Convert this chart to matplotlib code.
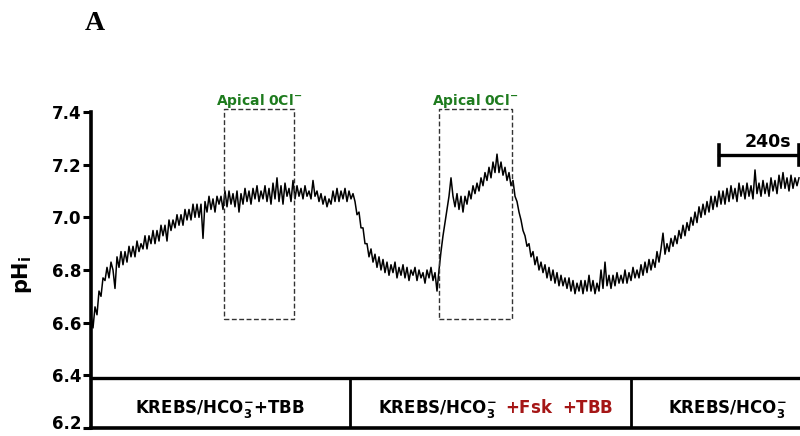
import matplotlib
matplotlib.use("Agg")
import matplotlib.pyplot as plt
import matplotlib.transforms as mtransforms
import numpy as np

# intracellular pH trace, one reading every 6 s
sample_step_s = 6
ph_trace = [
    6.63, 6.58, 6.66, 6.63, 6.72, 6.70, 6.77, 6.76,
    6.81, 6.77, 6.83, 6.80, 6.73, 6.85, 6.81, 6.87, 6.82, 6.87,
    6.83, 6.89, 6.85, 6.89, 6.85, 6.91, 6.87, 6.90, 6.88, 6.93,
    6.88, 6.93, 6.90, 6.95, 6.90, 6.95, 6.91, 6.97, 6.93, 6.97,
    6.91, 6.99, 6.95, 6.99, 6.96, 7.01, 6.97, 7.01, 6.97, 7.03,
    6.99, 7.03, 6.99, 7.05, 7.00, 7.05, 7.00, 7.05, 6.92, 7.06,
    7.02, 7.08, 7.03, 7.07, 7.02, 7.08, 7.05, 7.08, 7.03, 7.10,
    7.04, 7.10, 7.05, 7.09, 7.04,
    7.10, 7.02, 7.09, 7.05, 7.11, 7.06, 7.10, 7.05, 7.11, 7.07,
    7.12, 7.06, 7.10, 7.07, 7.12, 7.06, 7.11, 7.05, 7.13, 7.07,
    7.15, 7.06, 7.12, 7.05, 7.13, 7.08, 7.11, 7.06, 7.14, 7.07,
    7.12, 7.08, 7.11, 7.07, 7.12, 7.08, 7.10, 7.07, 7.14, 7.08,
    7.10, 7.06, 7.09, 7.05, 7.08, 7.04, 7.07, 7.05, 7.10, 7.06,
    7.11, 7.06, 7.10, 7.07, 7.11, 7.06, 7.10, 7.07, 7.09,
    7.06, 7.01, 7.02, 6.96, 6.96, 6.90, 6.90, 6.85, 6.88, 6.83,
    6.86, 6.81, 6.85, 6.80, 6.84, 6.79,
    6.83, 6.78, 6.82, 6.79, 6.83, 6.77, 6.81, 6.78, 6.82, 6.77,
    6.81, 6.76, 6.80, 6.78, 6.81, 6.76, 6.80, 6.77, 6.79, 6.75,
    6.80, 6.77, 6.81, 6.76, 6.79, 6.72,
    6.80, 6.87, 6.93, 6.98, 7.03, 7.08, 7.15, 7.08, 7.04, 7.09,
    7.03, 7.08, 7.02, 7.08, 7.05, 7.10, 7.07, 7.12, 7.09, 7.13,
    7.10, 7.15, 7.12, 7.17, 7.14, 7.19, 7.15, 7.21, 7.17, 7.24,
    7.17, 7.21, 7.16, 7.19, 7.14, 7.17, 7.12, 7.14, 7.08, 7.06,
    7.02, 6.99, 6.95, 6.93, 6.89, 6.90, 6.85, 6.87, 6.82, 6.85,
    6.80, 6.83, 6.79, 6.82, 6.77, 6.81, 6.76, 6.80, 6.75, 6.79,
    6.74, 6.78, 6.74, 6.77, 6.73, 6.77, 6.72, 6.76, 6.71, 6.75,
    6.72, 6.76, 6.71, 6.76, 6.72, 6.78, 6.72, 6.76, 6.71, 6.75,
    6.72, 6.80, 6.73, 6.83, 6.74, 6.78, 6.73, 6.78, 6.74, 6.79,
    6.75, 6.78, 6.75, 6.80, 6.75, 6.79, 6.76, 6.81, 6.77, 6.80,
    6.77, 6.82, 6.78, 6.83, 6.79, 6.84, 6.80, 6.84, 6.81, 6.87,
    6.83, 6.88, 6.94, 6.86, 6.90, 6.87, 6.92, 6.89, 6.93, 6.90,
    6.95, 6.92, 6.97, 6.93, 6.98, 6.95, 7.00, 6.97, 7.02, 6.98,
    7.04, 7.00, 7.05, 7.01, 7.06, 7.02, 7.08, 7.03, 7.08, 7.04,
    7.10, 7.05, 7.10, 7.05, 7.11, 7.06, 7.12, 7.07, 7.11, 7.06,
    7.13, 7.08, 7.12, 7.07, 7.13, 7.08, 7.12, 7.07, 7.18, 7.09,
    7.13, 7.08, 7.14, 7.09, 7.13, 7.08, 7.15, 7.10, 7.14, 7.09,
    7.16, 7.11, 7.17, 7.11, 7.15, 7.10, 7.16, 7.11, 7.15, 7.12,
    7.15,
]

# apical 0 Cl- windows (s)
apical_start = [399, 1044]
apical_end = [609, 1263]

# perfusion periods: boundaries (s)
period_edges = [777, 1620]
scale_bar_s = 240
y_ticks = [6.2, 6.4, 6.6, 6.8, 7.0, 7.2, 7.4]

t = np.arange(len(ph_trace)) * sample_step_s

fig = plt.figure(figsize=(8, 4.36), dpi=100)
ax = fig.add_axes([91 / 800, 8 / 436, 709 / 800, 316 / 436])

ax.plot(t, ph_trace, color='black', lw=1.1)

ax.set_xlim(0, 2127)
ax.set_ylim(6.2, 7.4)
ax.set_yticks(y_ticks)
ax.set_yticklabels(['%.1f' % v for v in y_ticks], fontsize=12, fontweight='bold')
ax.set_xticks([])
ax.tick_params(axis='y', direction='out', length=6, width=2.2, pad=1)
for s in ['top', 'right']:
    ax.spines[s].set_visible(False)
ax.spines['left'].set_linewidth(2.6)
ax.spines['bottom'].set_linewidth(2.6)

# lift the bottom tick label a little so it stays inside the figure
lab0 = ax.get_yticklabels()[0]
lab0.set_transform(lab0.get_transform() +
                   mtransforms.ScaledTranslation(0, 4 / 72, fig.dpi_scale_trans))

ax.text(-69 / 709 * 2127, 6.78, r'$\mathbf{pH_i}$', fontsize=15, rotation=90,
        ha='center', va='center')

# dashed apical windows
green = '#1e7b1e'
for a, b in zip(apical_start, apical_end):
    ax.plot([a, b, b, a, a], [6.614, 6.614, 7.412, 7.412, 6.614], ls=(0, (3.5, 1.8)),
            color='#333333', lw=1.0, clip_on=False)
    ax.text((a + b) / 2, 7.427, r'$\mathbf{Apical\ 0Cl^{-}}$', color=green,
            fontsize=10, ha='center', va='baseline', clip_on=False)

# perfusion boxes
ax.axhline(6.39, color='black', lw=2.4, clip_on=False)
for e in period_edges:
    ax.plot([e, e], [6.2, 6.39], color='black', lw=2.0)

ax.text(387, 6.257, r'$\mathbf{KREBS/HCO_3^{-}{+}TBB}$', fontsize=12,
        ha='center', va='baseline')
ax.text(861, 6.257, r'$\mathbf{KREBS/HCO_3^{-}}$', fontsize=12,
        ha='left', va='baseline')
ax.text(1242, 6.257, r'$\mathbf{{+}Fsk\ \ {+}TBB}$', fontsize=12, color='#a51616',
        ha='left', va='baseline')
ax.text(1731, 6.257, r'$\mathbf{KREBS/HCO_3^{-}}$', fontsize=12,
        ha='left', va='baseline')

# time scale bar
x0 = 2124 - scale_bar_s
ax.plot([x0, 2124], [7.237, 7.237], color='black', lw=2.4, clip_on=False)
ax.plot([x0, x0], [7.2, 7.275], color='black', lw=2.6, clip_on=False)
ax.plot([2124, 2124], [7.2, 7.275], color='black', lw=2.6, clip_on=False)
ax.text(x0 + 147, 7.267, '240s', fontsize=12.5, fontweight='bold',
        ha='center', va='baseline')

fig.text(95 / 800, 1 - 24 / 436, 'A', fontsize=20, fontweight='bold',
         family='Liberation Serif', ha='center', va='center')

fig.savefig('out.png', dpi=100)
